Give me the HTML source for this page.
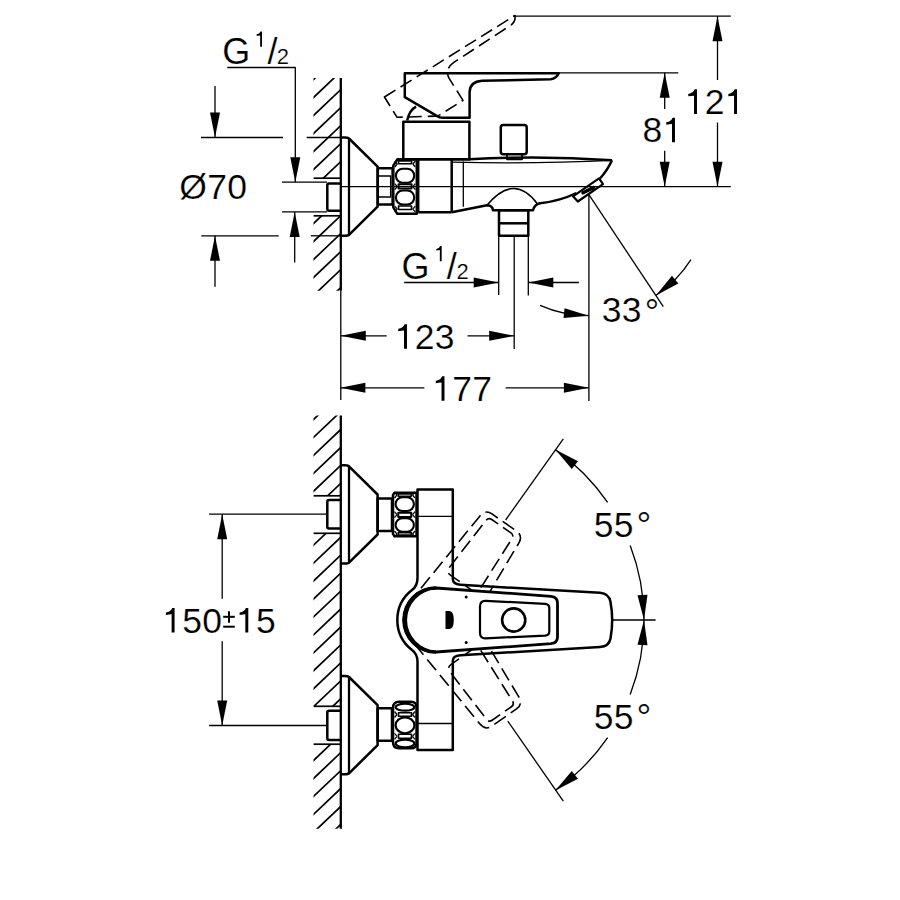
<!DOCTYPE html>
<html><head><meta charset="utf-8"><style>
html,body{margin:0;padding:0;background:#fff;width:900px;height:900px;overflow:hidden}
svg{display:block}
svg *{fill:none;stroke:#000;stroke-linejoin:round}
svg text{fill:#000;stroke:#fff;stroke-width:0.2px;font-family:"Liberation Sans",sans-serif}
svg .ah,svg .fill{fill:#000;stroke:none}
</style></head><body>
<svg width="900" height="900" viewBox="0 0 900 900">
<line x1="513" y1="16.2" x2="730.8" y2="16.2" stroke-width="1.3" />
<line x1="558.7" y1="72.8" x2="678.3" y2="72.8" stroke-width="1.3" />
<line x1="341" y1="186.7" x2="730.8" y2="186.7" stroke-width="1.3" />
<line x1="717.5" y1="16.2" x2="717.5" y2="80" stroke-width="1.3" />
<polygon class="ah" points="717.5,16.2 722.5,41.2 712.5,41.2"/>
<line x1="717.5" y1="122.5" x2="717.5" y2="186.7" stroke-width="1.3" />
<polygon class="ah" points="717.5,186.7 712.5,161.7 722.5,161.7"/>
<path class="fill" d="M694.61,89.35 H696.98 V113.9 H694.02 V95.66 Q691.26,95.85 688.3,96.35 V93.88 Q693.23,93.29 694.61,89.35 Z"/>
<text x="704.64" y="113.9" font-size="35.5">2</text>
<path class="fill" d="M734.65,89.35 H737.02 V113.9 H734.06 V95.66 Q731.3,95.85 728.34,96.35 V93.88 Q733.27,93.29 734.65,89.35 Z"/>
<line x1="664.7" y1="72.8" x2="664.7" y2="109" stroke-width="1.3" />
<polygon class="ah" points="664.7,72.8 669.7,97.8 659.7,97.8"/>
<line x1="664.7" y1="150.8" x2="664.7" y2="186.7" stroke-width="1.3" />
<polygon class="ah" points="664.7,186.7 659.7,161.7 669.7,161.7"/>
<text x="642.57" y="142.3" font-size="35.5">8</text>
<path class="fill" d="M672.59,117.75 H674.96 V142.3 H672 V124.06 Q669.24,124.25 666.28,124.75 V122.28 Q671.21,121.69 672.59,117.75 Z"/>
<text x="222.2" y="64.3" font-size="36">G</text>
<path class="fill" d="M260.51,31.48 H261.98 V46.7 H260.14 V35.39 Q258.43,35.52 256.6,35.82 V34.29 Q259.66,33.93 260.51,31.48 Z"/>
<text x="267.4" y="63.8" font-size="36">/</text>
<text x="276.7" y="63.7" font-size="22">2</text>
<polyline points="227.3,67.5 295.3,67.5 295.3,182.2" stroke-width="1.3" />
<polygon class="ah" points="295.3,182.2 290.3,157.2 300.3,157.2"/>
<line x1="294.7" y1="212" x2="294.7" y2="262.5" stroke-width="1.3" />
<polygon class="ah" points="294.7,212 299.7,237 289.7,237"/>
<line x1="282" y1="182.2" x2="327" y2="182.2" stroke-width="1.3" />
<line x1="282" y1="211.8" x2="327" y2="211.8" stroke-width="1.3" />
<line x1="215" y1="86" x2="215" y2="137.5" stroke-width="1.3" />
<polygon class="ah" points="215,137.5 210,112.5 220,112.5"/>
<line x1="201" y1="137.5" x2="283" y2="137.5" stroke-width="1.3" />
<line x1="215" y1="235.8" x2="215" y2="286.7" stroke-width="1.3" />
<polygon class="ah" points="215,235.8 220,260.8 210,260.8"/>
<line x1="201.3" y1="235.8" x2="278.7" y2="235.8" stroke-width="1.3" />
<line x1="306.7" y1="137.5" x2="341" y2="137.5" stroke-width="1.3" />
<line x1="310.8" y1="235.8" x2="341" y2="235.8" stroke-width="1.3" />
<text x="179.16" y="198.8" font-size="35.5">Ø</text>
<text x="207.17" y="198.8" font-size="35.5">7</text>
<text x="227.18" y="198.8" font-size="35.5">0</text>
<text x="401.5" y="279" font-size="36">G</text>
<path class="fill" d="M440.21,246.08 H441.68 V261.3 H439.84 V249.99 Q438.13,250.12 436.3,250.42 V248.89 Q439.36,248.53 440.21,246.08 Z"/>
<text x="446.7" y="278.8" font-size="36">/</text>
<text x="456.6" y="279" font-size="22">2</text>
<line x1="404.2" y1="282.5" x2="498.7" y2="282.5" stroke-width="1.3" />
<polygon class="ah" points="498.7,282.5 473.7,287.5 473.7,277.5"/>
<line x1="528.3" y1="282.5" x2="578.9" y2="282.5" stroke-width="1.3" />
<polygon class="ah" points="528.3,282.5 553.3,277.5 553.3,287.5"/>
<line x1="498.7" y1="235.8" x2="498.7" y2="295" stroke-width="1.3" />
<line x1="528.3" y1="235.8" x2="528.3" y2="295.6" stroke-width="1.3" />
<line x1="514.2" y1="235.8" x2="514.2" y2="348.9" stroke-width="1.3" />
<line x1="340.8" y1="335.8" x2="386.7" y2="335.8" stroke-width="1.3" />
<polygon class="ah" points="340.8,335.8 365.8,330.8 365.8,340.8"/>
<line x1="467.5" y1="335.8" x2="514.2" y2="335.8" stroke-width="1.3" />
<polygon class="ah" points="514.2,335.8 489.2,340.8 489.2,330.8"/>
<path class="fill" d="M404.61,324.25 H406.98 V348.8 H404.02 V330.56 Q401.26,330.75 398.3,331.25 V328.78 Q403.23,328.19 404.61,324.25 Z"/>
<text x="414.64" y="348.8" font-size="35.5">2</text>
<text x="434.65" y="348.8" font-size="35.5">3</text>
<line x1="340.4" y1="387.8" x2="424.4" y2="387.8" stroke-width="1.3" />
<polygon class="ah" points="340.4,387.8 365.4,382.8 365.4,392.8"/>
<line x1="505.6" y1="387.8" x2="588.9" y2="387.8" stroke-width="1.3" />
<polygon class="ah" points="588.9,387.8 563.9,392.8 563.9,382.8"/>
<path class="fill" d="M442.11,376.15 H444.48 V400.7 H441.52 V382.46 Q438.76,382.65 435.8,383.15 V380.68 Q440.73,380.09 442.11,376.15 Z"/>
<text x="452.14" y="400.7" font-size="35.5">7</text>
<text x="472.16" y="400.7" font-size="35.5">7</text>
<line x1="340.8" y1="290.8" x2="340.8" y2="400" stroke-width="1.3" />
<line x1="588.9" y1="194.7" x2="588.9" y2="401" stroke-width="1.3" />
<line x1="588.9" y1="194.7" x2="663.3" y2="306.7" stroke-width="1.3" />
<path d="M690.95,259.71 A121,121 0 0 1 655.85,295.49" stroke-width="1.3" />
<polygon class="ah" points="655.85,295.49 671.96,275.72 678.32,283.44"/>
<path d="M540.07,305.41 A121,121 0 0 0 588.9,315.7" stroke-width="1.3" />
<polygon class="ah" points="588.9,315.7 563.52,318.1 564.55,308.15"/>
<text x="601.65" y="322.35" font-size="35.5">3</text>
<text x="621.67" y="322.35" font-size="35.5">3</text>
<text x="644.8" y="324.6" font-size="36">°</text>
<line x1="340.8" y1="78" x2="340.8" y2="290.8" stroke-width="2.3" />
<clipPath id="hu"><rect x="313.5" y="78" width="27.3" height="100.2"/><rect x="313.5" y="215.8" width="27.3" height="75"/></clipPath>
<clipPath id="hl"><rect x="313.5" y="415.6" width="27.3" height="80.2"/><rect x="313.5" y="533.3" width="27.3" height="173"/><rect x="313.5" y="744.2" width="27.3" height="84.5"/></clipPath>
<g clip-path="url(#hu)" stroke-width="1.7"><line x1="300" y1="92.33" x2="360" y2="35.33"/><line x1="300" y1="110.33" x2="360" y2="53.33"/><line x1="300" y1="128.32" x2="360" y2="71.33"/><line x1="300" y1="146.32" x2="360" y2="89.33"/><line x1="300" y1="164.32" x2="360" y2="107.33"/><line x1="300" y1="182.32" x2="360" y2="125.33"/><line x1="300" y1="200.32" x2="360" y2="143.32"/><line x1="300" y1="218.32" x2="360" y2="161.32"/><line x1="300" y1="236.32" x2="360" y2="179.32"/><line x1="300" y1="254.32" x2="360" y2="197.32"/><line x1="300" y1="272.32" x2="360" y2="215.32"/><line x1="300" y1="290.32" x2="360" y2="233.32"/><line x1="300" y1="308.32" x2="360" y2="251.32"/><line x1="300" y1="326.32" x2="360" y2="269.32"/></g>
<g clip-path="url(#hl)" stroke-width="1.7"><line x1="300" y1="414.37" x2="360" y2="357.37"/><line x1="300" y1="432.32" x2="360" y2="375.32"/><line x1="300" y1="450.28" x2="360" y2="393.28"/><line x1="300" y1="468.22" x2="360" y2="411.22"/><line x1="300" y1="486.18" x2="360" y2="429.18"/><line x1="300" y1="504.12" x2="360" y2="447.12"/><line x1="300" y1="522.08" x2="360" y2="465.07"/><line x1="300" y1="540.03" x2="360" y2="483.03"/><line x1="300" y1="557.98" x2="360" y2="500.97"/><line x1="300" y1="575.93" x2="360" y2="518.93"/><line x1="300" y1="593.88" x2="360" y2="536.88"/><line x1="300" y1="611.83" x2="360" y2="554.83"/><line x1="300" y1="629.78" x2="360" y2="572.78"/><line x1="300" y1="647.73" x2="360" y2="590.73"/><line x1="300" y1="665.68" x2="360" y2="608.68"/><line x1="300" y1="683.62" x2="360" y2="626.62"/><line x1="300" y1="701.58" x2="360" y2="644.58"/><line x1="300" y1="719.53" x2="360" y2="662.53"/><line x1="300" y1="737.48" x2="360" y2="680.48"/><line x1="300" y1="755.42" x2="360" y2="698.42"/><line x1="300" y1="773.38" x2="360" y2="716.38"/><line x1="300" y1="791.33" x2="360" y2="734.33"/><line x1="300" y1="809.28" x2="360" y2="752.28"/><line x1="300" y1="827.23" x2="360" y2="770.23"/><line x1="300" y1="845.17" x2="360" y2="788.17"/><line x1="300" y1="863.12" x2="360" y2="806.12"/><line x1="300" y1="881.08" x2="360" y2="824.08"/><line x1="300" y1="899.03" x2="360" y2="842.03"/></g>
<line x1="313.6" y1="178.2" x2="341" y2="178.2" stroke-width="1.7" />
<line x1="313.6" y1="215.8" x2="341" y2="215.8" stroke-width="1.7" />
<path d="M340.8,137.5 H345 Q348.5,137.5 349.5,139 L377.6,166.7 V206.7 L349.5,234.3 Q348.5,235.8 345,235.8 H340.8" stroke-width="2.5" />
<line x1="349" y1="138" x2="349" y2="235.3" stroke-width="2.3" />
<path d="M340.8,183.6 H329 Q327.3,183.6 327.3,185.3 V209 Q327.3,210.7 329,210.7 H340.8" stroke-width="2.5" />
<rect x="377.8" y="168.3" width="14.8" height="36.2" rx="0" stroke-width="2.5" />
<rect x="377.8" y="176" width="12.8" height="21" rx="0" stroke-width="1.3" />
<path d="M397.3,159.3 H416.8 V213.8 H397.3 L393.3,207.4 V165.7 Z" stroke-width="2.5" />
<rect x="395.9" y="168.7" width="18.3" height="14" rx="6.86" ry="7" stroke-width="2.1"/>
<rect x="395.9" y="190.5" width="18.3" height="14" rx="6.86" ry="7" stroke-width="2.1"/>
<rect x="398.55" y="160.9" width="13" height="2.9" rx="0" stroke-width="1.6" />
<rect x="398.55" y="184.2" width="13" height="4.4" rx="0" stroke-width="2.0" />
<rect x="398.55" y="206" width="13" height="3.5" rx="0" stroke-width="1.6" />
<line x1="394.8" y1="161" x2="397.3" y2="164" stroke-width="1.2" />
<line x1="394.8" y1="167" x2="397.3" y2="164" stroke-width="1.2" />
<line x1="415.3" y1="161" x2="412.8" y2="164" stroke-width="1.2" />
<line x1="415.3" y1="167" x2="412.8" y2="164" stroke-width="1.2" />
<line x1="394.8" y1="183.6" x2="397.3" y2="186.6" stroke-width="1.2" />
<line x1="394.8" y1="189.6" x2="397.3" y2="186.6" stroke-width="1.2" />
<line x1="415.3" y1="183.6" x2="412.8" y2="186.6" stroke-width="1.2" />
<line x1="415.3" y1="189.6" x2="412.8" y2="186.6" stroke-width="1.2" />
<line x1="394.8" y1="206.15" x2="397.3" y2="209.15" stroke-width="1.2" />
<line x1="394.8" y1="212.15" x2="397.3" y2="209.15" stroke-width="1.2" />
<line x1="415.3" y1="206.15" x2="412.8" y2="209.15" stroke-width="1.2" />
<line x1="415.3" y1="212.15" x2="412.8" y2="209.15" stroke-width="1.2" />
<line x1="418.2" y1="159.3" x2="418.2" y2="212.3" stroke-width="2.5" />
<line x1="397" y1="159.3" x2="470" y2="159.3" stroke-width="2.5" />
<line x1="418.2" y1="212.3" x2="451.7" y2="212.3" stroke-width="2.5" />
<line x1="451.7" y1="159.3" x2="451.7" y2="212.5" stroke-width="2.5" />
<line x1="463.3" y1="161.5" x2="463.3" y2="206.7" stroke-width="1.3" />
<rect x="403.3" y="121.7" width="66.1" height="37.6" rx="0" stroke-width="2.5" />
<path d="M404.8,73.3 H558.7 Q556.5,78.6 550.7,79.3 L482,80.7 Q470,81.5 469.6,92 V117.8 H442.8 Q439,117.8 437.2,116.1 L404.8,97.2 Z" stroke-width="2.5" />
<path d="M404.8,73.3 H558.7 Q556.5,78.6 550.7,79.3 L482,80.7 Q470,81.5 469.6,92 V117.8 H442.8 Q439,117.8 437.2,116.1 L404.8,97.2 Z" stroke-width="1.6" stroke-dasharray="13,6" transform="rotate(-32 436 120.7)"/>
<path d="M407.2,120.6 Q409.5,110 416.1,106.7" stroke-width="2.5" />
<rect x="500.8" y="125" width="25.9" height="29.2" rx="2.5" stroke-width="2.5" />
<rect x="507" y="154.2" width="15" height="5.1" rx="0" stroke-width="1.8" />
<path d="M469.4,159.3 Q540,155.5 612,160.3" stroke-width="2.5" />
<path d="M452,162.2 Q540,164 612,160.3" stroke-width="1.3" />
<path d="M612,160.3 Q607,171 600,178.5" stroke-width="2.5" />
<polygon points="573,196.3 577.8,201.5 603,184.2 599,178.3" stroke-width="2.2" />
<path d="M583,192.8 L593.5,187.6" stroke-width="3.5" stroke-linecap="round"/>
<path d="M451.7,212.3 L487,205.3 Q492.5,205.5 493,210.3 H533 Q534.5,204.5 540,203.3 Q560,201 576.5,193" stroke-width="2.5" />
<path d="M487,205.3 Q514,172.5 537.5,204" stroke-width="1.6" />
<rect x="499" y="210.3" width="29.3" height="25.5" rx="0" stroke-width="2.5" />
<line x1="499" y1="223.3" x2="528.3" y2="223.3" stroke-width="2.5" />
<line x1="340.8" y1="415.6" x2="340.8" y2="828.7" stroke-width="2.3" />
<line x1="313.6" y1="495.8" x2="341" y2="495.8" stroke-width="1.7" />
<line x1="313.6" y1="533.3" x2="341" y2="533.3" stroke-width="1.7" />
<line x1="313.6" y1="706.3" x2="341" y2="706.3" stroke-width="1.7" />
<line x1="313.6" y1="744.2" x2="341" y2="744.2" stroke-width="1.7" />
<path d="M340.8,465.3 H345 Q348.5,465.3 349.5,466.8 L377.6,494.5 V534.5 L349.5,562.1 Q348.5,563.6 345,563.6 H340.8" stroke-width="2.5" />
<line x1="349" y1="465.8" x2="349" y2="563.1" stroke-width="2.3" />
<path d="M340.8,500 H329 Q327.3,500 327.3,501.7 V526.8 Q327.3,528.5 329,528.5 H340.8" stroke-width="2.5" />
<path d="M340.8,676 H345 Q348.5,676 349.5,677.5 L377.6,705.2 V745.2 L349.5,772.8 Q348.5,774.3 345,774.3 H340.8" stroke-width="2.5" />
<line x1="349" y1="676.5" x2="349" y2="773.8" stroke-width="2.3" />
<path d="M340.8,710.8 H329 Q327.3,710.8 327.3,712.5 V738.3 Q327.3,740 329,740 H340.8" stroke-width="2.5" />
<line x1="209.1" y1="514.2" x2="327.3" y2="514.2" stroke-width="1.3" />
<line x1="209.1" y1="725.5" x2="327.3" y2="725.5" stroke-width="1.3" />
<line x1="222.2" y1="514.2" x2="222.2" y2="598.7" stroke-width="1.3" />
<polygon class="ah" points="222.2,514.2 227.2,539.2 217.2,539.2"/>
<line x1="222.2" y1="641.3" x2="222.2" y2="725.5" stroke-width="1.3" />
<polygon class="ah" points="222.2,725.5 217.2,700.5 227.2,700.5"/>
<path class="fill" d="M172.21,607.95 H174.58 V632.5 H171.62 V614.26 Q168.86,614.45 165.9,614.95 V612.48 Q170.83,611.89 172.21,607.95 Z"/>
<text x="182.23" y="632.5" font-size="35.5">5</text>
<text x="202.25" y="632.5" font-size="35.5">0</text>
<line x1="223.2" y1="616.8" x2="234.8" y2="616.8" stroke-width="2" />
<line x1="229" y1="611.3" x2="229" y2="622.7" stroke-width="2" />
<line x1="223.2" y1="626.7" x2="234.8" y2="626.7" stroke-width="2" />
<path class="fill" d="M245.91,607.95 H248.28 V632.5 H245.32 V614.26 Q242.56,614.45 239.6,614.95 V612.48 Q244.53,611.89 245.91,607.95 Z"/>
<text x="255.93" y="632.5" font-size="35.5">5</text>
<rect x="377.6" y="498.4" width="14.4" height="32.6" rx="0" stroke-width="2.5" />
<rect x="377.6" y="708.3" width="14.4" height="32.5" rx="0" stroke-width="2.5" />
<path d="M394.5,492.7 H416.5 V536.3 H394.5 L393,533.9 V495.1 Z" stroke-width="2.5" />
<rect x="395.6" y="497.3" width="18.3" height="13.7" rx="6.86" ry="6.85" stroke-width="2.1"/>
<rect x="395.6" y="518.3" width="18.3" height="13.4" rx="6.86" ry="6.7" stroke-width="2.1"/>
<rect x="398.25" y="494" width="13" height="2.2" rx="0" stroke-width="1.6" />
<rect x="398.25" y="512.7" width="13" height="4.3" rx="0" stroke-width="2.0" />
<rect x="398.25" y="532.6" width="13" height="2.4" rx="0" stroke-width="1.6" />
<line x1="394.5" y1="492" x2="397" y2="495" stroke-width="1.2" />
<line x1="394.5" y1="498" x2="397" y2="495" stroke-width="1.2" />
<line x1="415" y1="492" x2="412.5" y2="495" stroke-width="1.2" />
<line x1="415" y1="498" x2="412.5" y2="495" stroke-width="1.2" />
<line x1="394.5" y1="511.65" x2="397" y2="514.65" stroke-width="1.2" />
<line x1="394.5" y1="517.65" x2="397" y2="514.65" stroke-width="1.2" />
<line x1="415" y1="511.65" x2="412.5" y2="514.65" stroke-width="1.2" />
<line x1="415" y1="517.65" x2="412.5" y2="514.65" stroke-width="1.2" />
<line x1="394.5" y1="531" x2="397" y2="534" stroke-width="1.2" />
<line x1="394.5" y1="537" x2="397" y2="534" stroke-width="1.2" />
<line x1="415" y1="531" x2="412.5" y2="534" stroke-width="1.2" />
<line x1="415" y1="537" x2="412.5" y2="534" stroke-width="1.2" />
<path d="M393,708 Q393,701.7 399,701.7 H411 Q416.5,701.7 416.5,707 V743 Q416.5,748.3 411,748.3 H399 Q393,748.3 393,742 Z" stroke-width="2.5" />
<ellipse cx="405" cy="707.2" rx="9.3" ry="3.5" stroke-width="2.2"/>
<ellipse cx="405" cy="725.3" rx="9.4" ry="8" stroke-width="2.2"/>
<ellipse cx="405" cy="743.5" rx="9.3" ry="3.8" stroke-width="2.2"/>
<rect x="398.5" y="712.7" width="13" height="3.6" rx="0" stroke-width="1.6" />
<rect x="398.5" y="734.3" width="13" height="4" rx="0" stroke-width="1.6" />
<line x1="394.5" y1="711.5" x2="397" y2="714.5" stroke-width="1.2" />
<line x1="394.5" y1="717.5" x2="397" y2="714.5" stroke-width="1.2" />
<line x1="415" y1="711.5" x2="412.5" y2="714.5" stroke-width="1.2" />
<line x1="415" y1="717.5" x2="412.5" y2="714.5" stroke-width="1.2" />
<line x1="394.5" y1="733.3" x2="397" y2="736.3" stroke-width="1.2" />
<line x1="394.5" y1="739.3" x2="397" y2="736.3" stroke-width="1.2" />
<line x1="415" y1="733.3" x2="412.5" y2="736.3" stroke-width="1.2" />
<line x1="415" y1="739.3" x2="412.5" y2="736.3" stroke-width="1.2" />
<path d="M417.5,489.6 H452.8 V578.8 Q452.8,584.3 460.4,584.8 L600,592.8 Q609,593.5 610.5,602 Q612.2,611 612.2,620 Q612.2,629 610.5,638.5 Q609,646.5 600,647 L460.4,655.3 Q452.8,655.8 452.8,661 V750 H417.5 V662 Q417.5,654 412,650 A38,38 0 0 1 412,590 Q417.5,586 417.5,578 Z" stroke-width="2.5" />
<line x1="417.5" y1="516.3" x2="452.8" y2="516.3" stroke-width="1.3" />
<line x1="417.5" y1="723.5" x2="452.8" y2="723.5" stroke-width="1.3" />
<g transform="rotate(-55 436 620)" stroke-width="1.6" stroke-dasharray="14,6"><path transform="translate(-2.5 0)" d="M436,588 L549,596.3 Q557.5,597 557.5,605 V635 Q557.5,643 549,643.7 L436,652"/><path transform="translate(1 0)" d="M485.5,600.8 L545,603.8 Q549.3,604 549.3,608 V631.5 Q549.3,635.3 545,635.6 L485.5,638.3 Q480,638.5 480,633 V606.5 Q480,600.6 485.5,600.8 Z"/></g>
<g transform="rotate(55 436 620)" stroke-width="1.6" stroke-dasharray="14,6"><path transform="translate(-2.5 0)" d="M436,588 L549,596.3 Q557.5,597 557.5,605 V635 Q557.5,643 549,643.7 L436,652"/><path transform="translate(1 0)" d="M485.5,600.8 L545,603.8 Q549.3,604 549.3,608 V631.5 Q549.3,635.3 545,635.6 L485.5,638.3 Q480,638.5 480,633 V606.5 Q480,600.6 485.5,600.8 Z"/></g>
<path d="M436,588 L551,596.3 Q557.5,597 557.5,603 V637 Q557.5,643 551,643.7 L436,652 A32,32 0 0 1 436,588 Z" stroke-width="2.8" style="fill:#fff"/>
<path class="fill" d="M436,586.2 A33.8,33.8 0 0 0 436,653.8 V650.46 A30.5,30.5 0 0 1 436,589.54 Z"/>
<path d="M485.5,600.8 L545,603.8 Q549.3,604 549.3,608 V631.5 Q549.3,635.3 545,635.6 L485.5,638.3 Q480,638.5 480,633 V606.5 Q480,600.6 485.5,600.8 Z" stroke-width="2.2" />
<circle cx="513.7" cy="620" r="11.6" stroke-width="2.6"/>
<circle class="fill" cx="466.2" cy="597" r="1.5"/><circle class="fill" cx="466.2" cy="642.5" r="1.5"/>
<path class="fill" d="M445.5,611 H449.5 Q453.8,611.5 453.8,620 Q453.8,628.5 449.5,629 H445.5 Z"/>
<line x1="505.6" y1="520" x2="563.3" y2="438.9" stroke-width="1.3" />
<line x1="507.8" y1="721.1" x2="563.3" y2="801.1" stroke-width="1.3" />
<line x1="612.2" y1="620" x2="655.6" y2="620" stroke-width="1.3" />
<path d="M555.3,449.62 A208,208 0 0 1 607.62,502.49" stroke-width="1.3" />
<polygon class="ah" points="555.3,449.62 577.99,461.24 571.78,469.08"/>
<path d="M630.18,545.46 A208,208 0 0 1 644,620" stroke-width="1.3" />
<polygon class="ah" points="644,620 637.51,595.35 647.49,594.74"/>
<path d="M555.3,790.38 A208,208 0 0 0 607.62,737.51" stroke-width="1.3" />
<polygon class="ah" points="555.3,790.38 571.78,770.92 577.99,778.76"/>
<path d="M630.18,694.54 A208,208 0 0 0 644,620" stroke-width="1.3" />
<polygon class="ah" points="644,620 647.49,645.26 637.51,644.65"/>
<text x="593.68" y="536.55" font-size="35.5">5</text>
<text x="613.7" y="536.55" font-size="35.5">5</text>
<text x="636.4" y="537.9" font-size="37">°</text>
<text x="593.68" y="728.95" font-size="35.5">5</text>
<text x="613.7" y="728.95" font-size="35.5">5</text>
<text x="636.4" y="729.9" font-size="37">°</text>
</svg></body></html>
